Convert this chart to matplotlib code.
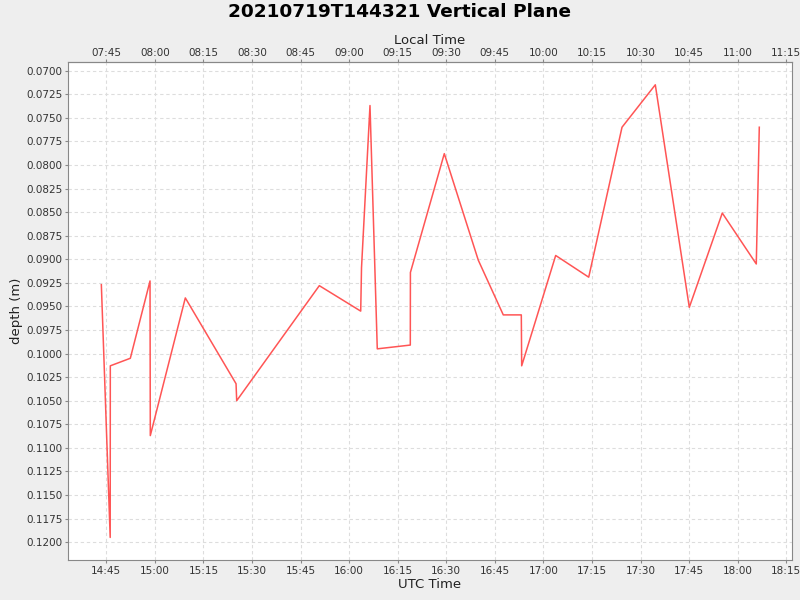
import matplotlib
matplotlib.use('Agg')
import matplotlib.pyplot as plt
import matplotlib.dates as mdates
import pandas as pd

title = '20210719T144321 Vertical Plane'
day = '2021-07-19 '
utc_times = ['14:43:28', '14:46:12', '14:46:14', '14:52:25', '14:58:30', '14:58:35',
             '15:09:24', '15:25:04', '15:25:16', '15:50:47', '16:03:34', '16:03:49',
             '16:06:26', '16:08:41', '16:18:53', '16:18:55', '16:29:23', '16:39:53',
             '16:47:36', '16:53:10', '16:53:17', '17:03:47', '17:13:59', '17:24:16',
             '17:34:33', '17:45:03', '17:55:14', '18:05:44', '18:06:40']
depth = [0.0927, 0.1195, 0.1013, 0.1005, 0.0923, 0.1087,
         0.0941, 0.1032, 0.1050, 0.0928, 0.0955, 0.0909,
         0.0737, 0.0995, 0.0991, 0.0914, 0.0788, 0.0901,
         0.0959, 0.0959, 0.1013, 0.0896, 0.0919, 0.0760,
         0.0715, 0.0951, 0.0851, 0.0905, 0.0760]
local_offset_hours = -7

t = pd.to_datetime([day + s for s in utc_times])

fig = plt.figure(figsize=(8, 6), dpi=100, facecolor='#eeeeee')
ax = fig.add_axes([0.085, 0.0667, 0.905, 0.83])
ax.set_facecolor('white')

ax.plot(t, depth, color='#ff5555', lw=1.1)

ax.set_xlim(pd.Timestamp(day + '14:33:10'), pd.Timestamp(day + '18:16:46'))
ax.set_ylim(0.12189, 0.06908)
ax.set_yticks([0.07 + 0.0025 * i for i in range(21)])
ax.yaxis.set_major_formatter(plt.FormatStrFormatter('%.4f'))

ax.xaxis.set_major_locator(mdates.MinuteLocator(byminute=[0, 15, 30, 45]))
ax.xaxis.set_major_formatter(mdates.DateFormatter('%H:%M'))

ax.grid(True, color='#dddddd', linestyle=(0, (3, 2.5)), lw=0.8)
for s in ax.spines.values():
    s.set_color('#888888')
ax.tick_params(labelsize=7.5, color='#888888', length=2, pad=2, labelcolor='#333333')

off = local_offset_hours / 24.0
top = ax.secondary_xaxis('top', functions=(lambda x: x + off, lambda x: x - off))
top.xaxis.set_major_locator(mdates.MinuteLocator(byminute=[0, 15, 30, 45]))
top.xaxis.set_major_formatter(mdates.DateFormatter('%H:%M'))
top.tick_params(labelsize=7.5, color='#888888', length=2, pad=1, labelcolor='#333333')
top.spines['top'].set_color('#888888')
top.set_xlabel('Local Time', fontsize=9.5, color='#222222', labelpad=3)

ax.set_xlabel('UTC Time', fontsize=9.5, color='#222222', labelpad=2)
ax.set_ylabel('depth (m)', fontsize=9.5, color='#222222', labelpad=2)
fig.suptitle(title, fontsize=13.3, fontweight='bold', y=0.995)

fig.savefig('out.png', dpi=100, facecolor=fig.get_facecolor())
